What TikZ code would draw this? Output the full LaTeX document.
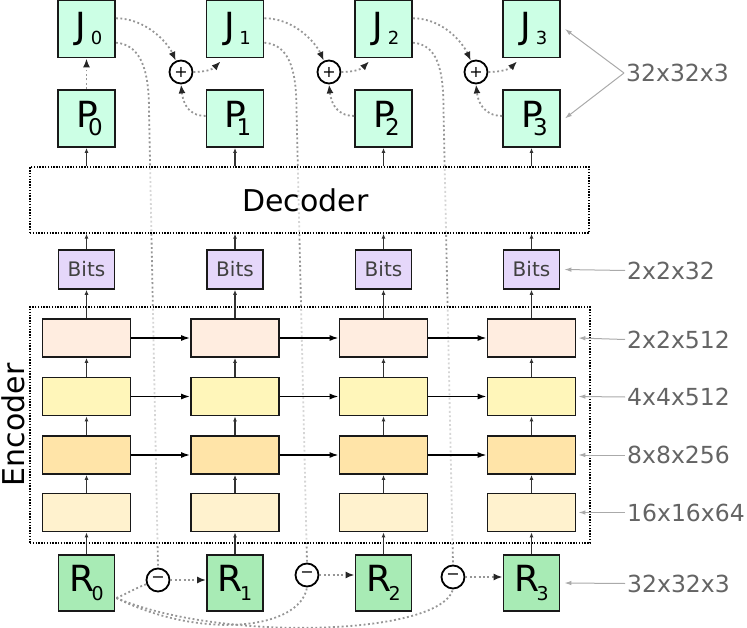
\documentclass[tikz,border=0pt]{standalone}
\usepackage{fontspec}
\setmainfont{DejaVu Sans}
\usetikzlibrary{arrows.meta,calc}
\pgfdeclarelayer{bg}\pgfdeclarelayer{mid}\pgfsetlayers{bg,mid,main}
\definecolor{mint}{RGB}{204,255,229}
\definecolor{rgreen}{RGB}{168,235,181}
\definecolor{bitsc}{RGB}{229,215,250}
\definecolor{eone}{RGB}{255,237,224}
\definecolor{etwo}{RGB}{255,246,186}
\definecolor{ethree}{RGB}{255,228,168}
\definecolor{efour}{RGB}{255,242,206}
\definecolor{dotg}{RGB}{150,150,150}
\definecolor{labg}{RGB}{100,100,100}
\definecolor{arrg}{RGB}{170,170,170}
\newcommand{\fs}[1]{\fontsize{#1pt}{#1pt}\selectfont}
\newcommand{\subl}[6]{\kern#6pt{\fs{36}#1}\kern#3pt\raisebox{-#4pt}{\fs{#5}#2}}
\begin{document}
\begin{tikzpicture}[x=1pt,y=-1pt,
  box/.style={draw=black!90,line width=1.8pt,inner sep=0pt,minimum width=57pt,minimum height=57pt},
  rbox/.style={box,fill=rgreen,minimum width=56pt,minimum height=56pt},
  bitsbox/.style={draw=black!90,line width=1.6pt,fill=bitsc,inner sep=0pt,minimum width=56pt,minimum height=39pt,font=\fs{20},text=black!75},
  ebox/.style={draw=black!90,line width=1.8pt,inner sep=0pt,minimum width=88pt,minimum height=38pt},
  circ/.style={circle,draw=black,line width=1.8pt,fill=white,inner sep=0pt,minimum size=23pt,font=\fs{16}},
  dotrect/.style={draw=black,line width=1.4pt,dash pattern=on 1.4pt off 1.4pt,fill=white,fill opacity=0.6,draw opacity=1,inner sep=0pt},
  dots/.style={draw=dotg,line width=1.8pt,dash pattern=on 1.9pt off 2.5pt},
  darr/.style={dots,-{Latex[length=9pt,width=7pt,color=black!85]}},
  sarr/.style={draw=black!80,line width=1.2pt,-{Latex[length=5pt,width=4pt]}},
  harr/.style={draw=black,line width=1.5pt,-{Latex[length=9pt,width=6pt]}},
  lab/.style={font=\fs{23.5},text=labg,inner sep=2pt,anchor=west},
  larr/.style={draw=arrg,line width=1pt,-{Latex[length=7pt,width=4.5pt]}}]
\useasboundingbox (0,0) rectangle (747,628);

\foreach \i/\x in {0/86.5,1/235,2/383.5,3/531.5}{
  \node[box,fill=mint] (J\i) at (\x,29) {\subl{J}{\i}{4.4}{6}{18}{5}};
  \node[box,fill=mint] (P\i) at (\x,118.5) {\subl{P}{\i}{-10}{8}{23}{6}};
  \node[bitsbox] (B\i) at (\x,269.5) {Bits};
  \node[ebox,fill=eone] (Ea\i) at (\x,338) {};
  \node[ebox,fill=etwo] (Eb\i) at (\x,396.5) {};
  \node[ebox,fill=ethree] (Ec\i) at (\x,455) {};
  \node[ebox,fill=efour] (Ed\i) at (\x,512.5) {};
  \node[rbox] (R\i) at (\x,583) {\subl{R}{\i}{-2.5}{9}{19}{0}};
}

\node[circ] (pl1) at (181,72) {+};
\node[circ] (pl2) at (329,72) {+};
\node[circ] (pl3) at (476,72) {+};
\node[circ] (mi1) at (158,580) {−};
\node[circ] (mi2) at (307,575) {−};
\node[circ] (mi3) at (453,577) {−};

\begin{pgfonlayer}{mid}
  \node[dotrect,minimum width=559pt,minimum height=66pt] (dec) at (309.5,200) {};
  \node[dotrect,minimum width=560pt,minimum height=236pt] (enc) at (310,425) {};
\end{pgfonlayer}
\node[font=\fs{30}] (dectext) at (305.5,200.6) {Decoder};
\node[font=\fs{30},rotate=90] (enctext) at (13.5,425) {Encoder};

% dotted long lines J -> minus (behind)
\begin{pgfonlayer}{bg}
  \draw[dots] (J0.-25) .. controls +(25,2) and +(0,-40) .. (149,110) -- (mi1.north);
  \draw[dots] (J1.-25) .. controls +(25,2) and +(0,-40) .. (296.5,110) -- (mi2.north);
  \draw[dots] (J2.-25) .. controls +(25,2) and +(0,-40) .. (443.5,110) -- (mi3.north);
\end{pgfonlayer}

% top dotted connectors
\draw[darr] (P0.north) -- (J0.south);
\foreach \a/\b in {0/1,1/2,2/3}{
  \draw[darr] (J\a.20) .. controls +(30,0) and +(-8,-18) .. (pl\b.115);
  \draw[darr] (pl\b.east) .. controls +(12,0) and +(-8,8) .. ($(J\b.south west)+(15,3)$);
  \draw[darr] (P\b.175) .. controls +(-18,0) and +(2,18) .. (pl\b.south);
  \draw[darr] (mi\b.east) -- (mi\b.east -| R\b.west);
}

% R0 curves
\coordinate (r0o) at ($(R0.east)+(1,15)$);
\draw[dots] (r0o) .. controls (130,592) and (138,587) .. (mi1.200);
\draw[dots] (r0o) .. controls (200,640) and (300,630) .. (mi2.south);
\draw[dots] (r0o) .. controls (220,642) and (440,636) .. (mi3.south);

% solid vertical arrows
\foreach \i in {0,1,2,3}{
  \draw[sarr] (R\i.north) -- (Ed\i.south);
  \draw[sarr] (Ed\i.north) -- (Ec\i.south);
  \draw[sarr] (Ec\i.north) -- (Eb\i.south);
  \draw[sarr] (Eb\i.north) -- (Ea\i.south);
  \draw[sarr] (Ea\i.north) -- (B\i.south);
  \draw[sarr] (B\i.north) -- (B\i.north |- dec.south);
  \draw[sarr] (P\i.south |- dec.north) -- (P\i.south);
}
% horizontal encoder arrows
\foreach \a/\b in {0/1,1/2,2/3}{
  \draw[harr] (Ea\a.east) -- (Ea\b.west);
  \draw[harr] (Eb\a.east) -- (Eb\b.west);
  \draw[harr] (Ec\a.east) -- (Ec\b.west);
}

% right labels
\node[lab] (l1) at (624,73) {32x32x3};
\draw[larr] (l1.west) -- ($(J3.east)+(4,0)$);
\draw[larr] (l1.west) -- ($(P3.east)+(4,0)$);
\node[lab] (l2) at (625,270.5) {2x2x32};
\draw[larr] (l2.west) -- ($(B3.east)+(4,0)$);
\node[lab] (l3) at (625,339.5) {2x2x512};
\draw[larr] (l3.west) -- ($(Ea3.east)+(2,0)$);
\node[lab] (l4) at (625,397) {4x4x512};
\draw[larr] (l4.west) -- ($(Eb3.east)+(2,0)$);
\node[lab] (l5) at (625,455) {8x8x256};
\draw[larr] (l5.west) -- ($(Ec3.east)+(2,0)$);
\node[lab] (l6) at (625,512.5) {16x16x64};
\draw[larr] (l6.west) -- ($(Ed3.east)+(2,0)$);
\node[lab] (l7) at (625,583.5) {32x32x3};
\draw[larr] (l7.west) -- ($(R3.east)+(4,0)$);
\end{tikzpicture}
\end{document}
